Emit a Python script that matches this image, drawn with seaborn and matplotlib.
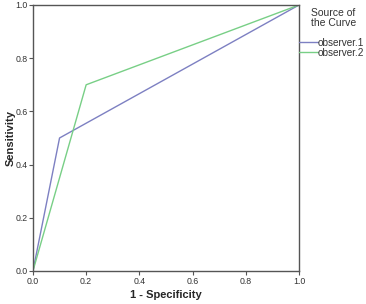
import pandas as pd
import matplotlib
matplotlib.use("Agg")
import matplotlib.pyplot as plt
import seaborn as sns

## Data ##
fpr_obs1 = [0.0, 0.1, 1.0]
tpr_obs1 = [0.0, 0.5, 1.0]
fpr_obs2 = [0.0, 0.2, 1.0]
tpr_obs2 = [0.0, 0.7, 1.0]
groups = ["observer.1", "observer.2"]
ticks = [0.0, 0.2, 0.4, 0.6, 0.8, 1.0]

df = pd.concat([
    pd.DataFrame({"fpr": fpr_obs1, "tpr": tpr_obs1, "Source": groups[0]}),
    pd.DataFrame({"fpr": fpr_obs2, "tpr": tpr_obs2, "Source": groups[1]}),
])

## Style ##
sns.set_theme(style="white")
plt.rcParams['font.family'] = ['Liberation Sans', 'DejaVu Sans']
colors = {"observer.1": "#7d80c2", "observer.2": "#78cf86"}
txt_col = "#333333"

fig = plt.figure(figsize=(3.66, 3.04), dpi=100)
ax = fig.add_axes([0.090, 0.1086, 0.727, 0.875])
sns.lineplot(data=df, x="fpr", y="tpr", hue="Source", palette=colors,
             linewidth=1.0, ax=ax, sort=False, estimator=None)

ax.set_xlim(0, 1)
ax.set_ylim(0, 1)
ax.set_xticks(ticks)
ax.set_yticks(ticks)
ax.set_xticklabels([f"{t:.1f}" for t in ticks], fontsize=6.3, color=txt_col)
ax.set_yticklabels([f"{t:.1f}" for t in ticks], fontsize=6.3, color=txt_col)
ax.tick_params(axis="both", direction="out", length=3, width=0.8, pad=1,
               color="#555555", bottom=True, left=True)
for sp in ax.spines.values():
    sp.set_color("#555555")
    sp.set_linewidth(1.0)

ax.set_xlabel("1 - Specificity", fontsize=8, fontweight="bold")
ax.set_ylabel("Sensitivity", fontsize=8, fontweight="bold")
ax.xaxis.set_label_coords(0.5, -0.073)
ax.yaxis.set_label_coords(-0.066, 0.5)

## Legend ##
leg = ax.legend(loc="upper left", bbox_to_anchor=(1.0, 0.877),
                borderaxespad=0, frameon=False, fontsize=7.2,
                handlelength=1.85, handletextpad=0.0, labelspacing=0.0,
                borderpad=0)
for t in leg.get_texts():
    t.set_color(txt_col)
fig.text(311 / 366, 1 - 13 / 304, "Source of", fontsize=7.5, color=txt_col,
         va="center", ha="left")
fig.text(311 / 366, 1 - 23 / 304, "the Curve", fontsize=7.5, color=txt_col,
         va="center", ha="left")

fig.savefig("out.png", dpi=100)
